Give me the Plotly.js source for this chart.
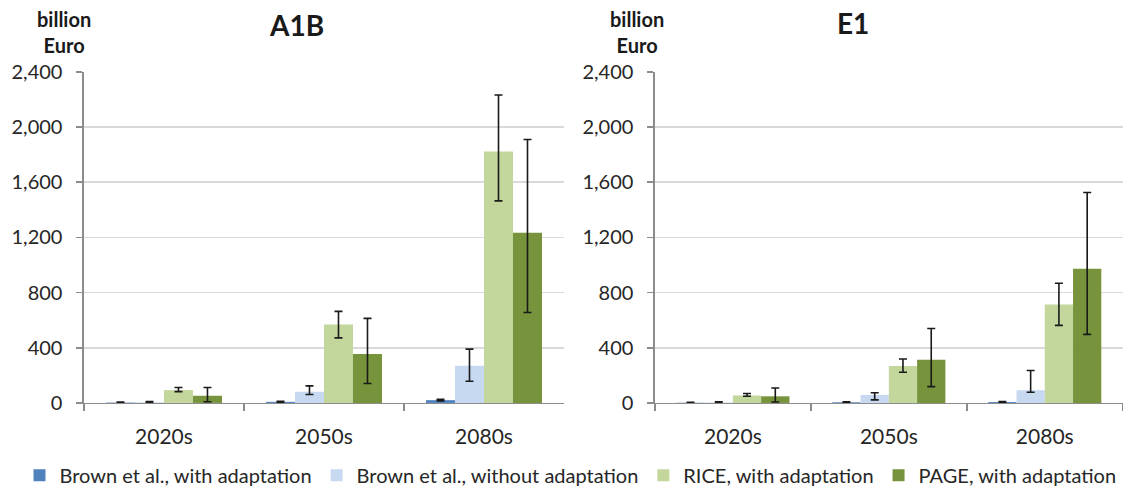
<!DOCTYPE html>
<html>
<head>
<meta charset="utf-8">
<script src="https://cdn.plot.ly/plotly-3.0.1.min.js"></script>
<style>html,body{margin:0;padding:0;background:#fff;}#chart{width:1141px;height:489px;}</style>
</head>
<body>
<div id="chart"></div>
<script>
// Categories and series names
const periods = ["2020s", "2050s", "2080s"];
const seriesNames = ["Brown et al., with adaptation", "Brown et al., without adaptation", "RICE, with adaptation", "PAGE, with adaptation"];
const seriesColors = ["#4F81BD", "#C6D9F1", "#C3D69B", "#77933C"];

// A1B scenario (billion Euro)
const a1bBrownWith      = [3, 8, 20];
const a1bBrownWithHi    = [6, 12, 26];
const a1bBrownWithLo    = [1, 5, 14];
const a1bBrownWithout   = [5, 81, 269];
const a1bBrownWithoutHi = [10, 124, 390];
const a1bBrownWithoutLo = [2, 61, 157];
const a1bRice           = [93, 568, 1822];
const a1bRiceHi         = [112, 664, 2232];
const a1bRiceLo         = [82, 472, 1465];
const a1bPage           = [52, 355, 1233];
const a1bPageHi         = [112, 613, 1910];
const a1bPageLo         = [9, 141, 656];

// E1 scenario (billion Euro)
const e1BrownWith      = [2, 5, 7];
const e1BrownWithHi    = [4, 8, 10];
const e1BrownWithLo    = [1, 2, 4];
const e1BrownWithout   = [4, 58, 92];
const e1BrownWithoutHi = [8, 74, 235];
const e1BrownWithoutLo = [1, 22, 77];
const e1Rice           = [54, 267, 714];
const e1RiceHi         = [68, 318, 868];
const e1RiceLo         = [48, 222, 562];
const e1Page           = [48, 313, 973];
const e1PageHi         = [108, 540, 1526];
const e1PageLo         = [7, 118, 497];

const yTicks = [0, 400, 800, 1200, 1600, 2000, 2400];

const panels = [
  {xa: "x", ya: "y", legend: true,
   vals: [a1bBrownWith, a1bBrownWithout, a1bRice, a1bPage],
   his: [a1bBrownWithHi, a1bBrownWithoutHi, a1bRiceHi, a1bPageHi],
   los: [a1bBrownWithLo, a1bBrownWithoutLo, a1bRiceLo, a1bPageLo]},
  {xa: "x2", ya: "y2", legend: false,
   vals: [e1BrownWith, e1BrownWithout, e1Rice, e1Page],
   his: [e1BrownWithHi, e1BrownWithoutHi, e1RiceHi, e1PageHi],
   los: [e1BrownWithLo, e1BrownWithoutLo, e1RiceLo, e1PageLo]}
];

const traces = [];
panels.forEach(p => {
  for (let i = 0; i < 4; i++) {
    const v = p.vals[i];
    traces.push({
      type: "bar",
      x: periods,
      y: v,
      name: seriesNames[i],
      legendgroup: "s" + i,
      showlegend: p.legend,
      xaxis: p.xa, yaxis: p.ya,
      marker: {color: seriesColors[i], line: {width: 0}},
      error_y: {
        type: "data", symmetric: false,
        array: p.his[i].map((h, k) => h - v[k]),
        arrayminus: v.map((y, k) => y - p.los[i][k]),
        color: "#1a1a1a", thickness: 1.6, width: 4
      },
      hoverinfo: "x+y+name"
    });
  }
});

const fontFam = "Lato, 'Open Sans', sans-serif";
function xAxis(domain, anchor) {
  return {
    domain: domain, anchor: anchor, type: "category",
    showline: true, linecolor: "#8c8c8c", linewidth: 1.5,
    ticks: "outside", tickson: "boundaries", ticklen: 7, tickcolor: "#8c8c8c", tickwidth: 1.5,
    ticklabelstandoff: 14,
    tickfont: {family: fontFam, size: 21, color: "#262626"},
    showgrid: false, zeroline: false, fixedrange: true, automargin: false
  };
}
function yAxis(anchor) {
  return {
    domain: [0.176, 0.853], anchor: anchor,
    range: [0, 2400], tickvals: yTicks, tickformat: ",d",
    showline: true, linecolor: "#8c8c8c", linewidth: 1.5,
    ticks: "outside", ticklen: 6, tickcolor: "#8c8c8c", tickwidth: 1.5,
    ticklabelstandoff: 10,
    tickfont: {family: fontFam, size: 20, color: "#262626"},
    showgrid: true, gridcolor: "#d9d9d9", gridwidth: 1.5,
    zeroline: false, fixedrange: true, automargin: false
  };
}

const layout = {
  width: 1141, height: 489,
  margin: {l: 0, r: 0, t: 0, b: 0, autoexpand: false},
  paper_bgcolor: "#ffffff", plot_bgcolor: "#ffffff",
  barmode: "group", bargap: 0.275, bargroupgap: 0,
  separators: ".,",
  font: {family: fontFam, color: "#262626"},
  xaxis: xAxis([0.0736, 0.4943], "y"),
  yaxis: yAxis("x"),
  xaxis2: xAxis([0.574, 0.984], "y2"),
  yaxis2: yAxis("x2"),
  showlegend: true,
  legend: {
    orientation: "h", x: 0.5, xanchor: "center", y: -0.012, yanchor: "bottom",
    font: {family: fontFam, size: 20, color: "#262626"},
    itemwidth: 30, tracegroupgap: 0, traceorder: "normal"
  },
  annotations: [
    {text: "<b>A1B</b>", xref: "paper", yref: "paper", x: 296/1141, y: 1 - 25/489,
     xanchor: "center", yanchor: "middle", showarrow: false,
     font: {family: fontFam, size: 28, color: "#1a1a1a"}},
    {text: "<b>E1</b>", xref: "paper", yref: "paper", x: 853/1141, y: 1 - 23/489,
     xanchor: "center", yanchor: "middle", showarrow: false,
     font: {family: fontFam, size: 28, color: "#1a1a1a"}},
    {text: "<b>billion</b><br><b>Euro</b>", xref: "paper", yref: "paper", x: 64/1141, y: 1 - 32/489,
     xanchor: "center", yanchor: "middle", align: "center", showarrow: false,
     font: {family: fontFam, size: 20, color: "#1a1a1a"}},
    {text: "<b>billion</b><br><b>Euro</b>", xref: "paper", yref: "paper", x: 637/1141, y: 1 - 32/489,
     xanchor: "center", yanchor: "middle", align: "center", showarrow: false,
     font: {family: fontFam, size: 20, color: "#1a1a1a"}}
  ]
};

Plotly.newPlot("chart", traces, layout, {displayModeBar: false, staticPlot: true});
</script>
</body>
</html>
